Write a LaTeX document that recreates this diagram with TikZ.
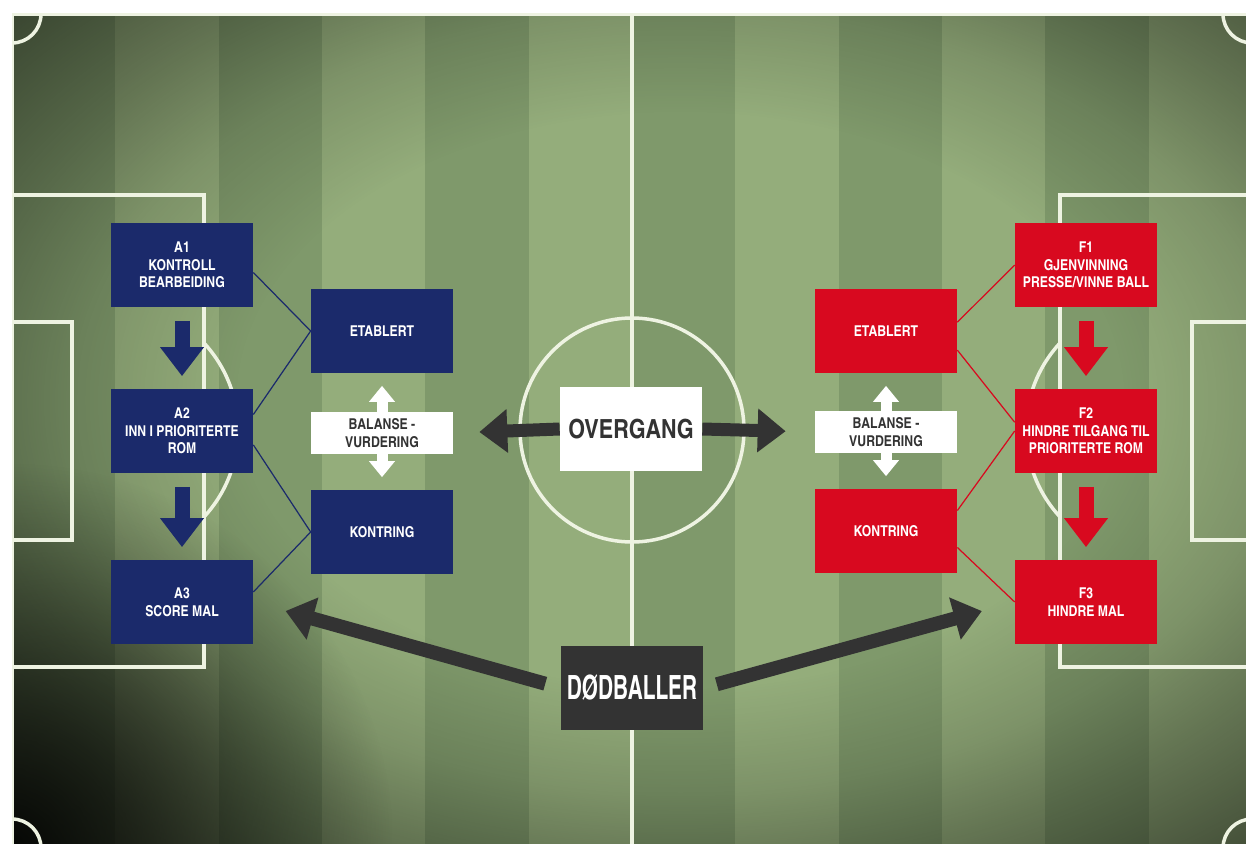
\documentclass[tikz,border=0pt]{standalone}
\usepackage{fontspec}
\newfontfamily\boxfont{texgyreheroscn-bold}[Extension=.otf]
\newfontfamily\dodfont{texgyreheroscn-bold}[Extension=.otf, FakeStretch=0.76]
\usetikzlibrary{arrows.meta, fadings}

\definecolor{navyblue}{HTML}{1B2A6B}
\definecolor{fred}{HTML}{D8091F}
\definecolor{darkgrey}{HTML}{333333}
\definecolor{stripelight}{HTML}{94AD7B}
\definecolor{stripedark}{HTML}{7F996B}
\definecolor{linewhite}{HTML}{EEF3E2}

% darkening towards the edges of the pitch
\pgfdeclareradialshading{vignshade}{\pgfpointorigin}{color(0bp)=(black!100); color(11bp)=(black!100); color(15bp)=(black!85); color(18bp)=(black!68); color(22.5bp)=(black!45); color(25bp)=(black!25)}
\pgfdeclarefading{vign}{\pgfuseshading{vignshade}}
\pgfdeclareradialshading{blobshade}{\pgfpointorigin}{color(0bp)=(black!15); color(8bp)=(black!40); color(25bp)=(black!100)}
\pgfdeclarefading{blob}{\pgfuseshading{blobshade}}

\begin{document}
\begin{tikzpicture}[x=0.02cm, y=-0.02cm,
    ablock/.style={fill=navyblue, text=white, minimum width=2.84cm, minimum height=1.7cm,
      inner sep=0pt, align=center, font=\boxfont\fontsize{8.5}{10}\selectfont},
    fblock/.style={ablock, fill=fred},
    balblock/.style={ablock, fill=white, text=darkgrey, minimum height=0.86cm},
    alink/.style={draw=navyblue, line width=0.7pt},
    flink/.style={draw=fred, line width=0.7pt},
    flow/.style={line width=0.3cm, -{Triangle[width=0.84cm,length=0.58cm]},
      shorten <=0.26cm, shorten >=0.24cm},
    balarrow/.style={white, line width=0.22cm,
      {Triangle[width=0.5cm,length=0.32cm]}-{Triangle[width=0.5cm,length=0.32cm]},
      shorten <=0.24cm, shorten >=0.24cm},
    bigarrow/.style={darkgrey, line width=0.26cm, -{Triangle[width=0.84cm,length=0.56cm]}},
    fieldline/.style={draw=linewhite, line width=0.07cm}]

    \useasboundingbox (0,0) rectangle (1246,844);
    \fill[white] (0,0) rectangle (1246,844);

    % Pitch
    \begin{scope}
        \clip (12,14) rectangle (1246,844);
        \fill[stripelight] (12,14) rectangle (1252,848);
        \foreach \k in {0,2,...,10}
            \fill[stripedark] ({12+103.33*\k},14) rectangle ({12+103.33*(\k+1)},848);
        \fill[black, path fading=vign] (-320,-250) rectangle (1680,1050);
        \fill[black, path fading=blob] (-368,464) rectangle (392,1224);
        % Lines
        \draw[fieldline] (12,14) rectangle (1252,848);
        \draw[fieldline] (632,14) -- (632,848);
        \draw[fieldline] (632,430) circle (112);
        \draw[fieldline] (12,195) rectangle (204,667);
        \draw[fieldline] (12,322) rectangle (72,540);
        \draw[fieldline] (1060,195) rectangle (1252,667);
        \draw[fieldline] (1192,322) rectangle (1252,540);
        \draw[fieldline] (204,343) arc[start angle=-42.8, end angle=42.8, radius=128];
        \draw[fieldline] (1060,343) arc[start angle=222.8, end angle=137.2, radius=128];
        \foreach \cx/\cy in {12/14, 1252/14, 12/848, 1252/848}
            \draw[fieldline] (\cx,\cy) circle (29);
    \end{scope}

    % Attack
    \node[ablock] (A1) at (182,265) {A1\\KONTROLL\\BEARBEIDING};
    \node[ablock] (A2) at (182,431) {A2\\INN I PRIORITERTE\\ROM};
    \node[ablock] (A3) at (182,602) {A3\\SCORE MAL};
    \node[ablock] (EA) at (382,331) {ETABLERT};
    \node[ablock] (KA) at (382,532) {KONTRING};
    \foreach \i/\j in {1/2,2/3}
        \draw[flow, navyblue] (A\i.south) -- (A\j.north);
    \draw[alink] (EA.west) -- (A1.-6);
    \draw[alink] (EA.west) -- (A2.13);
    \draw[alink] (KA.west) -- (A2.-11);
    \draw[alink] (KA.west) -- (A3.8);
    \draw[balarrow] (EA.south) -- (KA.north);
    \node[balblock] (BA) at (382,433) {BALANSE -\\VURDERING};

    % Defence
    \node[fblock] (F1) at (1086,265) {F1\\GJENVINNING\\PRESSE/VINNE BALL};
    \node[fblock] (F2) at (1086,431) {F2\\HINDRE TILGANG TIL\\PRIORITERTE ROM};
    \node[fblock] (F3) at (1086,602) {F3\\HINDRE MAL};
    \node[fblock] (EF) at (886,331) {ETABLERT};
    \node[fblock] (KF) at (886,531) {KONTRING};
    \foreach \i/\j in {1/2,2/3}
        \draw[flow, fred] (F\i.south) -- (F\j.north);
    \draw[flink] (EF.7) -- (F1.west);
    \draw[flink] (EF.-15) -- (F2.173);
    \draw[flink] (KF.16) -- (F2.west);
    \draw[flink] (KF.-13) -- (F3.west);
    \draw[balarrow] (EF.south) -- (KF.north);
    \node[balblock] (BF) at (886,432) {BALANSE -\\VURDERING};

    % Transition and set pieces
    \node[ablock, fill=white, text=darkgrey, font=\boxfont\fontsize{15}{18}\selectfont] (OV) at (631,429) {OVERGANG};
    \draw[bigarrow] (OV.west) -- (BA.east) [shorten >=0.52cm];
    \draw[bigarrow] (OV.east) -- (BF.west) [shorten >=0.58cm];
    \node[ablock, fill=darkgrey, font=\dodfont\fontsize{19}{22}\selectfont] (DB) at (632,688) {DØDBALLER};
    \draw[bigarrow, shorten <=0.32cm, shorten >=0.67cm, line width=0.28cm] (DB.west) -- (A3.east);
    \draw[bigarrow, shorten <=0.28cm, shorten >=0.68cm, line width=0.28cm] (DB.east) -- (F3.west);
\end{tikzpicture}
\end{document}
